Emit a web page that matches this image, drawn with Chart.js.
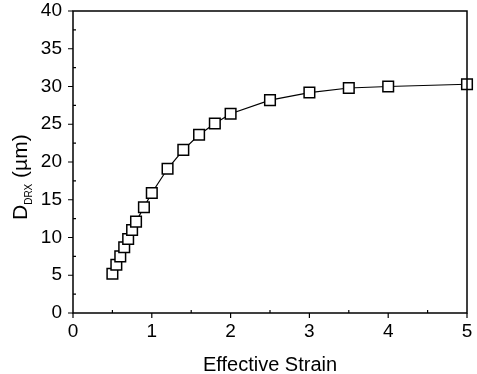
<!DOCTYPE html>
<html>
<head>
<meta charset="utf-8">
<script src="https://cdn.jsdelivr.net/npm/chart.js@4.4.0/dist/chart.umd.min.js"></script>
<style>
  html, body { margin: 0; padding: 0; background: #fff; }
  #wrap { width: 477px; height: 374px; }
</style>
</head>
<body>
<div id="wrap"><canvas id="c" width="477" height="374"></canvas></div>
<script>
// Values
const strain = [0.5, 0.55, 0.6, 0.65, 0.7, 0.75, 0.8, 0.9, 1.0, 1.2, 1.4, 1.6, 1.8, 2.0, 2.5, 3.0, 3.5, 4.0, 5.0];
const grainSize = [5.2, 6.4, 7.5, 8.7, 9.8, 11.0, 12.1, 14.0, 15.9, 19.1, 21.6, 23.6, 25.1, 26.4, 28.2, 29.2, 29.8, 30.0, 30.3];
const xTicks = [0, 1, 2, 3, 4, 5];
const yTicks = [0, 5, 10, 15, 20, 25, 30, 35, 40];
const xMinor = [0.5, 1.5, 2.5, 3.5, 4.5];
const yMinor = [2.5, 7.5, 12.5, 17.5, 22.5, 27.5, 32.5, 37.5];
const xTitle = 'Effective Strain';

const FONT = '"Liberation Sans", Arial, sans-serif';

// Frame, tick marks and axis titles (y title has a subscript)
const framePlugin = {
    id: 'frame',
    afterDraw(chart) {
        const { ctx, chartArea: a, scales } = chart;
        const xs = scales.x, ys = scales.y;
        ctx.save();
        ctx.strokeStyle = '#000';
        ctx.lineWidth = 1.5;
        ctx.strokeRect(a.left, a.top, a.right - a.left, a.bottom - a.top);

        ctx.lineWidth = 1.2;
        ctx.beginPath();
        xTicks.forEach(v => {
            const px = xs.getPixelForValue(v);
            ctx.moveTo(px, a.bottom); ctx.lineTo(px, a.bottom + 5);
        });
        xMinor.forEach(v => {
            const px = xs.getPixelForValue(v);
            ctx.moveTo(px, a.bottom); ctx.lineTo(px, a.bottom - 3);
        });
        yTicks.forEach(v => {
            const py = ys.getPixelForValue(v);
            ctx.moveTo(a.left, py); ctx.lineTo(a.left - 5, py);
        });
        yMinor.forEach(v => {
            const py = ys.getPixelForValue(v);
            ctx.moveTo(a.left, py); ctx.lineTo(a.left + 3, py);
        });
        ctx.stroke();

        ctx.fillStyle = '#000';
        ctx.textBaseline = 'alphabetic';

        // x axis title
        ctx.font = '20px ' + FONT;
        ctx.textAlign = 'center';
        ctx.fillText(xTitle, 270, 371);

        // y axis title: D_DRX (µm), reading bottom to top
        ctx.textAlign = 'left';
        ctx.translate(27, 220);
        ctx.rotate(-Math.PI / 2);
        const big = '21px ' + FONT, small = '10px ' + FONT;
        ctx.font = big;
        const wD = ctx.measureText('D').width;
        ctx.fillText('D', 0, 0);
        ctx.font = small;
        const wSub = ctx.measureText('DRX').width;
        ctx.fillText('DRX', wD, 5);
        ctx.font = big;
        ctx.fillText(' (\u00b5m)', wD + wSub, 0);
        ctx.restore();
    }
};

new Chart(document.getElementById('c'), {
    type: 'line',
    data: {
        datasets: [{
            data: strain.map((x, i) => ({ x, y: grainSize[i] })),
            borderColor: '#000',
            borderWidth: 1.2,
            pointStyle: 'rect',
            pointRadius: 7.5,
            pointBorderWidth: 1.5,
            pointBackgroundColor: '#fff',
            pointBorderColor: '#000',
            tension: 0,
            clip: false
        }]
    },
    options: {
        responsive: false,
        animation: false,
        layout: { padding: { top: 11, right: 10, left: 0, bottom: 0 } },
        plugins: { legend: { display: false }, tooltip: { enabled: false } },
        scales: {
            x: {
                type: 'linear',
                min: 0, max: 5,
                afterBuildTicks: s => { s.ticks = xTicks.map(v => ({ value: v })); },
                afterFit: s => { s.height = 61; s.paddingLeft = 0; s.paddingRight = 0; },
                grid: { display: false, drawTicks: false },
                border: { display: false },
                ticks: { color: '#000', font: { family: FONT, size: 19 }, padding: 7, maxRotation: 0 }
            },
            y: {
                type: 'linear',
                min: 0, max: 40,
                afterBuildTicks: s => { s.ticks = yTicks.map(v => ({ value: v })); },
                afterFit: s => { s.width = 73; s.paddingTop = 0; s.paddingBottom = 0; },
                grid: { display: false, drawTicks: false },
                border: { display: false },
                ticks: { color: '#000', font: { family: FONT, size: 19 }, padding: 11 }
            }
        }
    },
    plugins: [framePlugin]
});
</script>
</body>
</html>
